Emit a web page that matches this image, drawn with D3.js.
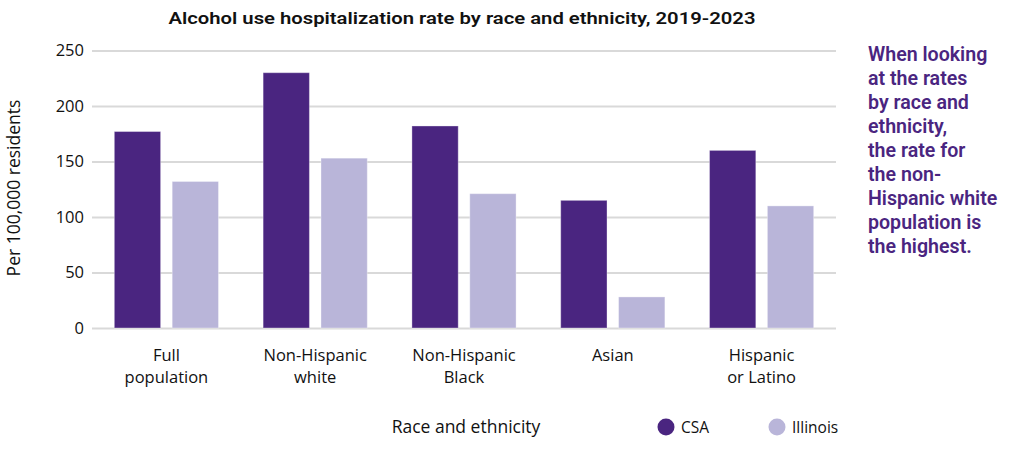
<!DOCTYPE html>
<html><head><meta charset="utf-8">
<script src="https://cdn.jsdelivr.net/npm/d3@7"></script>
<style>
body{margin:0;background:#fff;}
text{font-family:"Open Sans", "Noto Sans", sans-serif;}
</style></head>
<body><svg id="c" width="1013" height="452"></svg>
<script>
const categories = [["Full","population"],["Non-Hispanic","white"],["Non-Hispanic","Black"],["Asian"],["Hispanic","or Latino"]];
const seriesNames = ["CSA","Illinois"];
const csaValues = [177, 230, 182, 115, 160];
const illinoisValues = [132, 153, 121, 28, 110];
const yTicks = [0, 50, 100, 150, 200, 250];
const colors = ["#4a2580", "#b9b5d9"];
const annotation = ["When looking","at the rates","by race and","ethnicity,","the rate for","the non-","Hispanic white","population is","the highest."];

const svg = d3.select("#c");
const catKeys = categories.map(c => c.join(" "));
const x0 = d3.scaleBand().domain(catKeys).range([92, 836]).paddingInner(0.3).paddingOuter(0.15);
const x1 = d3.scaleBand().domain(seriesNames).range([0, x0.bandwidth()]).paddingInner(0.2);
const y = d3.scaleLinear().domain([0, 250]).range([328, 50.5]);
const color = d3.scaleOrdinal().domain(seriesNames).range(colors);

// title
svg.append("text").attr("x", 462).attr("y", 24).attr("text-anchor", "middle")
  .style("font-size", "17px").style("font-weight", 600).attr("fill", "#111")
  .style("font-family", "Roboto, sans-serif")
  .attr("textLength", 587).attr("lengthAdjust", "spacingAndGlyphs")
  .text("Alcohol use hospitalization rate by race and ethnicity, 2019-2023");

// grid + y axis
const yAxis = d3.axisLeft(y).tickValues(yTicks).tickSize(-(836 - 92)).tickPadding(8);
const gy = svg.append("g").attr("transform", "translate(92,0)").call(yAxis);
gy.select(".domain").remove();
gy.selectAll(".tick line").attr("stroke", "#d9d9d9").attr("stroke-width", 2);
gy.selectAll(".tick text").style("font-size", "16.5px").style("font-family", "'Open Sans', sans-serif").attr("fill", "#111").attr("x", -8);

// y label
svg.append("text").attr("transform", "translate(20,188) rotate(-90)").attr("text-anchor", "middle")
  .style("font-size", "17.5px").attr("fill", "#111").text("Per 100,000 residents");

// bars
const data = catKeys.map((k, i) => ({key: k, values: [{s: "CSA", v: csaValues[i]}, {s: "Illinois", v: illinoisValues[i]}]}));
const groups = svg.append("g").selectAll("g").data(data).join("g")
  .attr("transform", d => `translate(${x0(d.key)},0)`);
groups.selectAll("rect").data(d => d.values).join("rect")
  .attr("x", d => x1(d.s)).attr("width", x1.bandwidth())
  .attr("y", d => y(d.v)).attr("height", d => y(0) - y(d.v))
  .attr("fill", d => color(d.s)).attr("stroke", "rgba(255,255,255,0.35)").attr("stroke-width", 1);

// x labels
categories.forEach((c, i) => {
  const cx = x0(catKeys[i]) + x0.bandwidth() / 2;
  const t = svg.append("text").attr("x", cx).attr("y", 361)
    .attr("text-anchor", "middle").style("font-size", "16.5px").attr("fill", "#111");
  c.forEach((line, j) => t.append("tspan").attr("x", cx).attr("dy", j === 0 ? 0 : 22).text(line));
});

// axis title
svg.append("text").attr("x", 466).attr("y", 433).attr("text-anchor", "middle")
  .style("font-size", "17.5px").attr("fill", "#111").text("Race and ethnicity");

// legend
const legX = [666, 777];
seriesNames.forEach((s, i) => {
  svg.append("circle").attr("cx", legX[i]).attr("cy", 427).attr("r", 8.5).attr("fill", color(s));
  svg.append("text").attr("x", legX[i] + 15).attr("y", 433).style("font-size", "15.5px").attr("fill", "#111").text(s);
});

// annotation
const at = svg.append("text").attr("x", 868).attr("y", 61).style("font-size", "19.6px")
  .style("font-weight", 600).style("font-family", "Roboto, sans-serif").attr("fill", "#4a2580");
annotation.forEach((l, i) => at.append("tspan").attr("x", 868).attr("dy", i === 0 ? 0 : 24).text(l));
</script></body></html>
